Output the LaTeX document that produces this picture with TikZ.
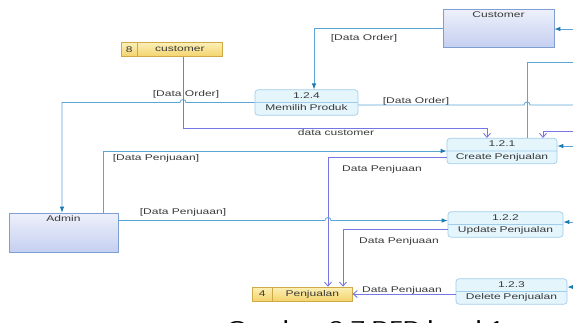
\documentclass[tikz,border=0pt]{standalone}
\usepackage{fontspec}
\newfontfamily\dfdfont[FakeStretch=1.45]{Liberation Sans}
\newfontfamily\capfont[FakeStretch=1.45]{Carlito}
\usetikzlibrary{arrows.meta,shapes.multipart}
\definecolor{flowcol}{HTML}{5AA5D5}
\definecolor{tipcol}{HTML}{1C7BB3}
\definecolor{purp}{HTML}{7676E4}
\definecolor{procfill}{HTML}{E4F5FC}
\definecolor{procline}{HTML}{9FCDEB}
\definecolor{enttop}{HTML}{EEF1FB}
\definecolor{entbot}{HTML}{C5CFF0}
\definecolor{entline}{HTML}{7F9FD3}
\definecolor{stotop}{HTML}{FCF0B8}
\definecolor{stobot}{HTML}{F3D36B}
\definecolor{stoline}{HTML}{CDAA45}
\definecolor{txt}{HTML}{3A3A3A}
\tikzset{
    lbl/.style={
           font=\dfdfont\fontsize{8.3}{10}\selectfont,
           text=txt,
           inner sep=0pt,
           },
    proc/.style={
           rectangle split,
           rectangle split parts=2,
           draw=procline, fill=procfill,
           rounded corners=3pt,
           line width=0.7pt,
           font=\dfdfont\fontsize{8.3}{10}\selectfont,
           text=txt,
           align=center,
           inner xsep=2pt, inner ysep=1pt,
           },
    entity/.style={
           rectangle,
           draw=entline, line width=0.7pt,
           top color=enttop, bottom color=entbot,
           inner sep=0pt,
           },
    store/.style={
           rectangle split,
           rectangle split horizontal,
           rectangle split parts=2,
           draw=stoline, line width=0.6pt,
           top color=stotop, bottom color=stobot,
           font=\dfdfont\fontsize{8.3}{12}\selectfont,
           text=txt,
           inner xsep=2pt, inner ysep=1pt,
           },
    flow/.style={draw=flowcol, line width=0.8pt,
           -{Latex[length=6pt,width=4.5pt,color=tipcol]}},
    line/.style={draw=flowcol, line width=0.8pt},
    dflow/.style={draw=purp, line width=0.9pt,
           -{Straight Barb[length=4pt,width=7pt]}},
}

\begin{document}
\begin{tikzpicture}[x=1pt,y=-1pt]
 \useasboundingbox (0,0) rectangle (573,322);
 \clip (0,0) rectangle (573,322);

 % external entities
 \node[entity, minimum width=111pt, minimum height=38pt,
  label={[lbl,anchor=north,yshift=-3pt]north:Customer}] (Cust) at (498.5,28) {};
 \node[entity, minimum width=109pt, minimum height=39pt,
  label={[lbl,anchor=north,yshift=-3pt]north:Admin}] (Admin) at (63.5,232.5) {};

 % processes
 \node[proc, text width=99pt] (Pilih) at (306.5,102.5)
  {\strut 1.2.4\nodepart{two}\strut Memilih Produk};
 \node[proc, text width=106pt] (Create) at (502,151)
  {\strut 1.2.1\nodepart{two}\strut Create Penjualan};
 \node[proc, text width=111pt] (Upd) at (505.5,224.5)
  {\strut 1.2.2\nodepart{two}\strut Update Penjualan};
 \node[proc, text width=107pt] (Del) at (511.5,291.5)
  {\strut 1.2.3\nodepart{two}\strut Delete Penjualan};

 % data stores
 \node[store] (StCust) at (172,49.5)
  {\makebox[11pt]{8}\nodepart{two}\makebox[81pt]{\strut customer}};
 \node[store] (StPenj) at (302.5,294)
  {\makebox[15pt]{4}\nodepart{two}\makebox[76pt]{\strut Penjualan}};

 % free ends on the right border, and crossing points
 \coordinate (eCust) at (575,29);
 \coordinate (eOrder) at (575,105);
 \coordinate (eTop) at (575,62);
 \coordinate (eCr1) at (575,131);
 \coordinate (eCr2) at (575,146);
 \coordinate (eUpd) at (575,222);
 \coordinate (eDel) at (575,287);
 \coordinate (upC) at ([xshift=25pt]Create.north);
 \coordinate (cs) at ([xshift=11pt]StCust.south);
 \coordinate (d1) at ([xshift=25.5pt]StPenj.north);
 \coordinate (aU) at ([yshift=4pt]Upd.west);

 % flows
 \draw[flow] (eCust) -- (eCust -| Cust.east);
 \draw[flow] (Cust.west) -| ([xshift=7.5pt]Pilih.north);
 \draw[line] ([yshift=-2.5pt]Pilih.east) -- ([xshift=-3pt]upC |- eOrder)
   arc[start angle=180,end angle=0,radius=3pt] -- (eOrder);
 \draw[flow] (Pilih.west) -- ([xshift=3pt]cs |- Pilih.west)
   arc[start angle=0,end angle=180,radius=3pt] -| ([xshift=-1.5pt]Admin.north);
 \draw[dflow] (cs) -- ++(0,72) -| ([xshift=-15pt]Create.north);
 \draw[dflow] (eCr1) -| ([xshift=41pt]Create.north);
 \draw[flow] (eCr2) -- ([yshift=5pt]Create.east);
 \draw[line] (upC) |- (eTop);
 \draw[flow] ([xshift=39.5pt]Admin.north) |- (Create.west);
 \draw[dflow] ([yshift=-6pt]Create.west) -| (d1);
 \draw[flow] ([yshift=12pt]Admin.east) -- ([xshift=-3pt]d1 |- aU)
   arc[start angle=180,end angle=0,radius=3pt] -- (aU);
 \draw[flow] (eUpd) -- ([yshift=2.5pt]Upd.east);
 \draw[dflow] ([yshift=-4.5pt]Upd.west) -| ([xshift=40.5pt]StPenj.north);
 \draw[flow] (eDel) -- ([yshift=4.5pt]Del.east);
 \draw[dflow] (Del.west |- StPenj.east) -- (StPenj.east);

 % flow labels
 \node[lbl, anchor=base] (lOrd1) at (364,40) {[Data Order]};
 \node[lbl, anchor=base] (lOrd2) at (416,103) {[Data Order]};
 \node[lbl, anchor=base] (lOrd3) at (186,96) {[Data Order]};
 \node[lbl, anchor=base] (lCust) at (336,135) {data customer};
 \node[lbl, anchor=base] (lPj1) at (156,160) {[Data Penjuaan]};
 \node[lbl, anchor=base] (lPj2) at (382,171) {Data Penjuaan};
 \node[lbl, anchor=base] (lPj3) at (183,214) {[Data Penjuaan]};
 \node[lbl, anchor=base] (lPj4) at (399,243) {Data Penjuaan};
 \node[lbl, anchor=base] (lPj5) at (402,292) {Data Penjuaan};

 % caption, cut by the page edge
 \node[anchor=base west, inner sep=0pt, text=black,
  font=\capfont\fontsize{20}{24}\selectfont] (cap) at (227,334)
  {Gambar 3.7 DFD level 1};
\end{tikzpicture}
\end{document}
